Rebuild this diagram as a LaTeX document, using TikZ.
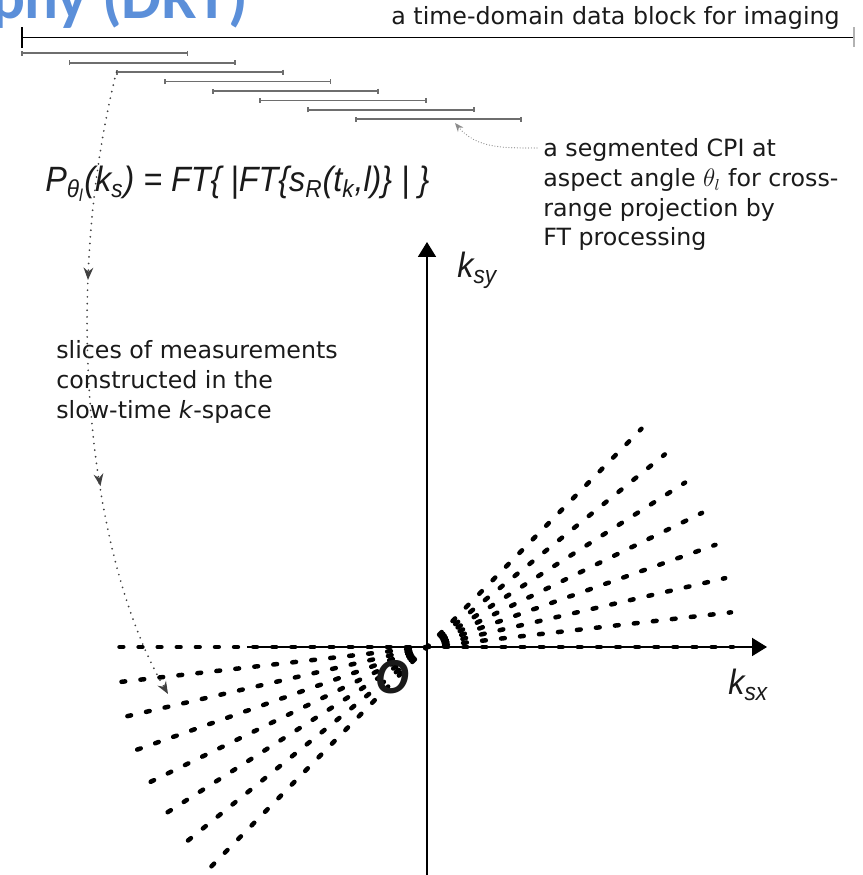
\documentclass[tikz,border=0pt]{standalone}
\usepackage{fontspec}
\setmainfont{DejaVu Sans}
\newfontfamily\titlefont{Carlito}
\newfontfamily\eqfont[FakeStretch=0.92]{Liberation Sans}
\usetikzlibrary{arrows.meta,decorations.markings}
\definecolor{titleblue}{HTML}{5B8FD9}
\definecolor{ink}{HTML}{1A1A1A}
\definecolor{cpigray}{HTML}{6E6E6E}
\tikzset{
  note/.style={font=\fontsize{13.5}{17}\selectfont,align=left,inner sep=0pt},
  eq/.style={font=\eqfont\itshape\fontsize{20}{24}\selectfont,inner sep=0pt},
  axis/.style={line width=1.1pt,-{Triangle[length=0.3cm,width=0.36cm]}},
  fanline/.style={line width=0.09cm,line cap=round,dash pattern=on 0.075cm off 0.307cm,dash phase=0.0375cm},
  cpibar/.style={cpigray,line width=1pt,{Bar[width=0.1cm]}-{Bar[width=0.1cm]}},
  finedots/.style={black!45,line width=0.7pt,line cap=round,dash pattern=on 0pt off 1.6pt},
  slowdots/.style={black!75,line width=1.1pt,line cap=round,dash pattern=on 0pt off 3.8pt,
    -{Stealth[length=7pt,width=5.5pt]},postaction={decorate},
    decoration={markings,
      mark=at position 0.33 with {\arrow{Stealth[length=7pt,width=5.5pt]}},
      mark=at position 0.655 with {\arrow{Stealth[length=7pt,width=5.5pt]}}}}
}
\begin{document}
\begin{tikzpicture}[text=ink]
  \useasboundingbox (-8.54,-4.56) rectangle (8.70,12.94);
  \node[anchor=base east,font=\titlefont\bfseries\fontsize{36}{40}\selectfont,text=titleblue,inner sep=0pt] (title) at (-3.58,12.56) {phy (DRT)};

  \node[note,anchor=base east] (block) at (8.26,12.44) {a time-domain data block for imaging};
  \coordinate (blockstart) at (-8.12,12.19);
  \coordinate (blockend) at (8.56,12.19);
  \draw[line width=1.1pt,{Bar[width=0.42cm]}-{Bar[width=0.4cm,color=black!30]}] (blockstart) -- (blockend);
  \foreach \i in {0,...,7}{
    \draw[cpibar] (-8.12+0.954*\i,11.874-0.1886*\i) coordinate (cpi\i) -- ++(3.346,0);
  }

  \node[eq,anchor=base west] (proj) at (-7.64,9.1)
    {P\textsubscript{θ\textsubscript{l}}(k\textsubscript{s}) = FT\{ |FT\{s\textsubscript{R}(t\textsubscript{k},l)\} | \}};
  \node[note,anchor=north west] (cpinote) at (2.32,10.18)
    {a segmented CPI at\\aspect angle $\theta_l$ for cross-\\range projection by\\FT processing};
  \node[note,anchor=north west] (slices) at (-7.42,6.14)
    {slices of measurements\\constructed in the\\slow-time \textit{k}-space};

  \coordinate (O) at (0,0);
  \coordinate (ybot) at (0,-4.6);
  \coordinate (ytop) at (0,8.1);
  \coordinate (xleft) at (-3.6,0);
  \coordinate (xright) at (6.8,0);
  \draw[axis] (ybot) -- (ytop);
  \draw[axis] (xleft) -- (xright);
  \node[eq,anchor=base west] (ksy) at (0.6,7.38) {k\textsubscript{sy}};
  \node[eq,anchor=base west] (ksx) at (6.02,-0.96) {k\textsubscript{sx}};
  \foreach \a in {0,6.5,...,45.5}{
    \draw[fanline] (O) -- (\a:6.12);
    \draw[fanline] (O) -- (180+\a:6.15);
  }
  \node[eq,font=\eqfont\bfseries\itshape\fontsize{27}{30}\selectfont] (orig) at (-0.7,-0.6) {O};

  \coordinate (cpistart) at (2.2,9.98);
  \coordinate (cpitip) at (0.56,10.48);
  \draw[finedots,-{Stealth[length=5pt,width=4pt]}] (cpistart) to[out=180,in=-50] (cpitip);
  \coordinate (fanhit) at (-5.18,-0.94);
  \draw[slowdots] (cpi2) .. controls (-7.34,6.94) and (-6.74,1.74) .. (fanhit);
\end{tikzpicture}
\end{document}
